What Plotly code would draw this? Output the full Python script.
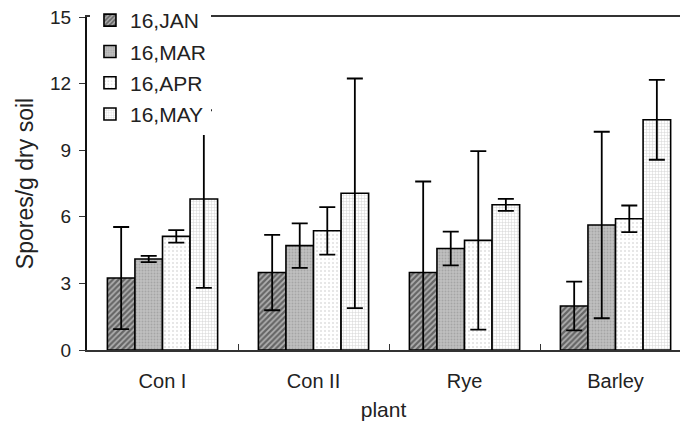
import plotly.graph_objects as go

categories = ["Con I", "Con II", "Rye", "Barley"]
series_names = ["16,JAN", "16,MAR", "16,APR", "16,MAY"]
values = {
    "16,JAN": [3.24, 3.49, 3.49, 1.98],
    "16,MAR": [4.10, 4.70, 4.57, 5.63],
    "16,APR": [5.12, 5.37, 4.94, 5.91],
    "16,MAY": [6.80, 7.06, 6.54, 10.37],
}
errors = {
    "16,JAN": [2.30, 1.70, 4.10, 1.10],
    "16,MAR": [0.14, 1.00, 0.76, 4.20],
    "16,APR": [0.28, 1.07, 4.02, 0.60],
    "16,MAY": [4.00, 5.17, 0.27, 1.80],
}
y_ticks = [0, 3, 6, 9, 12, 15]

patterns = {
    "16,JAN": dict(shape="/", bgcolor="#b0b0b0", fgcolor="#1a1a1a", size=4, solidity=0.55),
    "16,MAR": dict(shape=".", bgcolor="#c0c0c0", fgcolor="#8a8a8a", size=3, solidity=0.35),
    "16,APR": dict(shape=".", bgcolor="#ffffff", fgcolor="#c0c0c0", size=4, solidity=0.2),
    "16,MAY": dict(shape="+", bgcolor="#ffffff", fgcolor="#a8a8a8", size=3, solidity=0.3),
}

fig = go.Figure()
for name in series_names:
    fig.add_trace(go.Bar(
        x=categories, y=values[name], name=name, legendgroup=name,
        marker=dict(color="white", line=dict(color="black", width=1.6), pattern=patterns[name]),
        error_y=dict(type="data", array=errors[name], visible=True, color="black", thickness=1.8, width=8),
    ))

font_family = "Liberation Sans"
fig.update_layout(
    width=680, height=434,
    margin=dict(l=87, r=0, t=15, b=84),
    paper_bgcolor="white", plot_bgcolor="white",
    barmode="group", bargap=0.27, bargroupgap=0,
    font=dict(family=font_family, size=20, color="#222"),
    showlegend=True,
    legend=dict(x=0.005, y=1.051, xanchor="left", yanchor="top", bgcolor="white",
                font=dict(size=21, color="#222"), tracegroupgap=1, itemwidth=30),
    xaxis=dict(range=[-0.5, 3.427], showline=True, linecolor="#333", linewidth=2, mirror=True,
               ticks="inside", tickson="boundaries", ticklen=6, tickcolor="#333",
               title=dict(text="plant", font=dict(size=21), standoff=11),
               tickfont=dict(size=20), ticklabelstandoff=12),
    yaxis=dict(range=[0, 15], tickvals=y_ticks, showline=True, linecolor="#111", linewidth=2,
               ticks="outside", ticklen=6, tickcolor="#333", showgrid=False, zeroline=False,
               title=dict(text="Spores/g dry soil", font=dict(size=23), standoff=10),
               tickfont=dict(size=19), ticklabelstandoff=4),
)
fig.write_html("out.html")
